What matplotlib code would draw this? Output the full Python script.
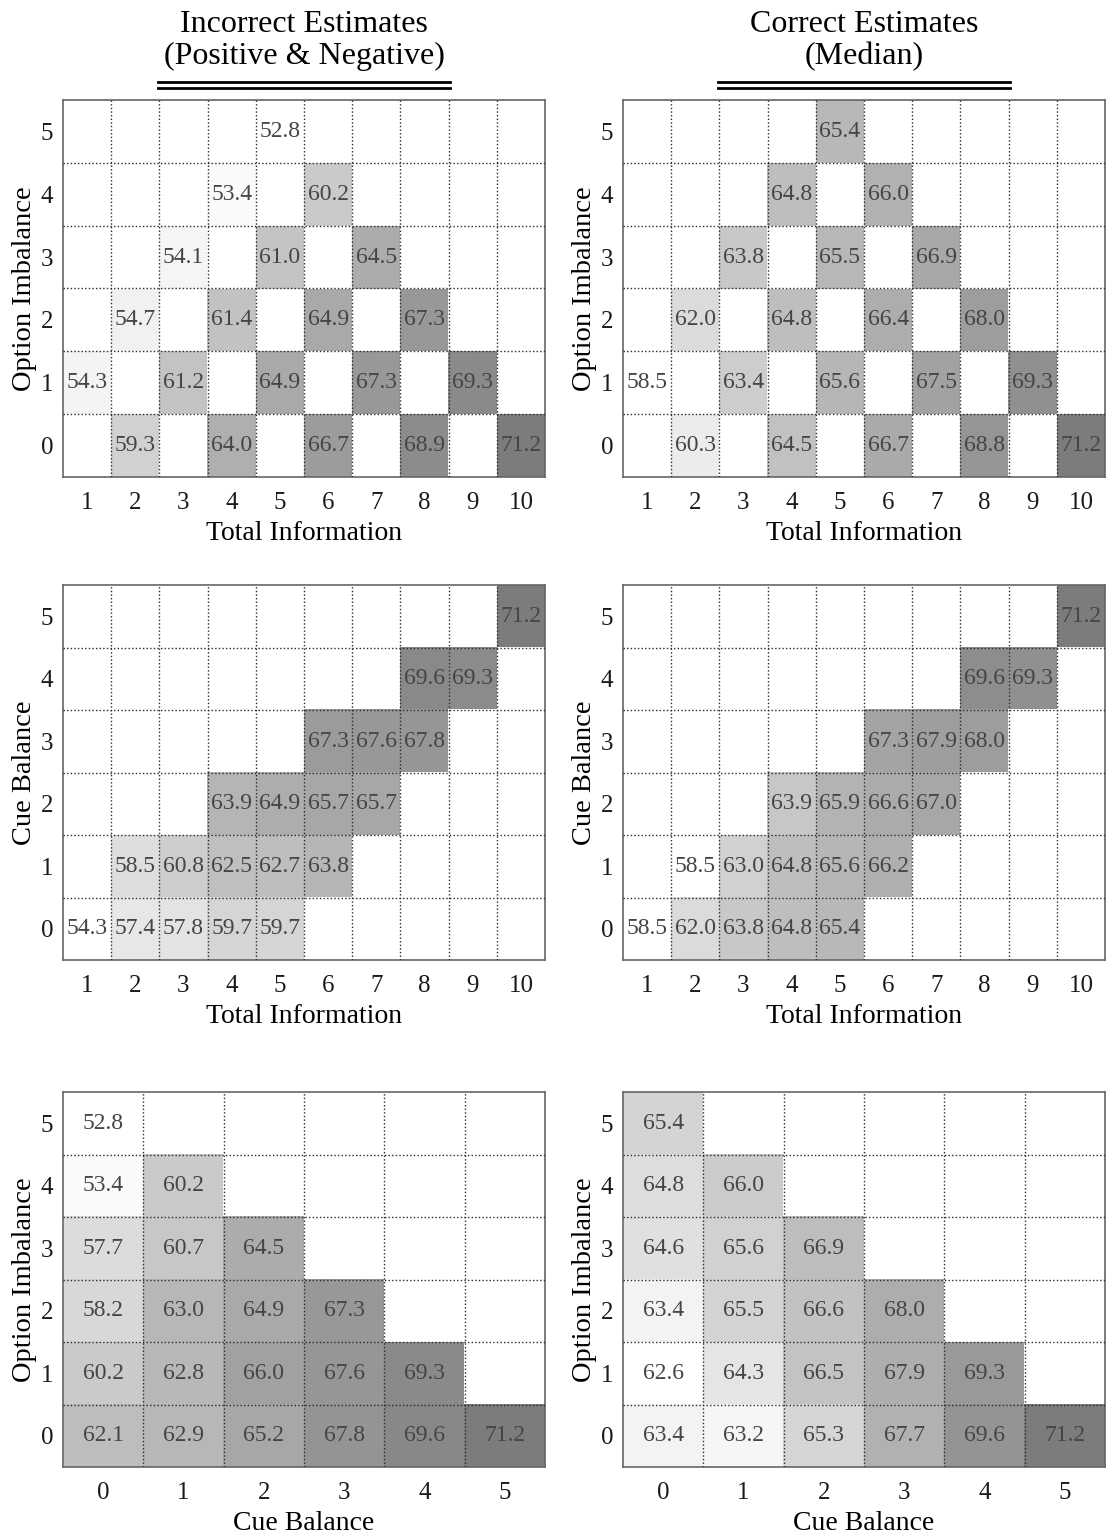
import numpy as np
import matplotlib
matplotlib.use("Agg")
import matplotlib.pyplot as plt
from matplotlib.colors import LinearSegmentedColormap
from matplotlib.lines import Line2D

plt.rcParams["font.family"] = ["Liberation Serif", "DejaVu Serif"]

nan = np.nan

total_info = list(range(1, 11))
levels = list(range(0, 6))

# rows: Option Imbalance 0..5, cols: Total Information 1..10
inc_ti_oi = [
    [nan, 59.3, nan, 64.0, nan, 66.7, nan, 68.9, nan, 71.2],
    [54.3, nan, 61.2, nan, 64.9, nan, 67.3, nan, 69.3, nan],
    [nan, 54.7, nan, 61.4, nan, 64.9, nan, 67.3, nan, nan],
    [nan, nan, 54.1, nan, 61.0, nan, 64.5, nan, nan, nan],
    [nan, nan, nan, 53.4, nan, 60.2, nan, nan, nan, nan],
    [nan, nan, nan, nan, 52.8, nan, nan, nan, nan, nan],
]
cor_ti_oi = [
    [nan, 60.3, nan, 64.5, nan, 66.7, nan, 68.8, nan, 71.2],
    [58.5, nan, 63.4, nan, 65.6, nan, 67.5, nan, 69.3, nan],
    [nan, 62.0, nan, 64.8, nan, 66.4, nan, 68.0, nan, nan],
    [nan, nan, 63.8, nan, 65.5, nan, 66.9, nan, nan, nan],
    [nan, nan, nan, 64.8, nan, 66.0, nan, nan, nan, nan],
    [nan, nan, nan, nan, 65.4, nan, nan, nan, nan, nan],
]

# rows: Cue Balance 0..5, cols: Total Information 1..10
inc_ti_cb = [
    [54.3, 57.4, 57.8, 59.7, 59.7, nan, nan, nan, nan, nan],
    [nan, 58.5, 60.8, 62.5, 62.7, 63.8, nan, nan, nan, nan],
    [nan, nan, nan, 63.9, 64.9, 65.7, 65.7, nan, nan, nan],
    [nan, nan, nan, nan, nan, 67.3, 67.6, 67.8, nan, nan],
    [nan, nan, nan, nan, nan, nan, nan, 69.6, 69.3, nan],
    [nan, nan, nan, nan, nan, nan, nan, nan, nan, 71.2],
]
cor_ti_cb = [
    [58.5, 62.0, 63.8, 64.8, 65.4, nan, nan, nan, nan, nan],
    [nan, 58.5, 63.0, 64.8, 65.6, 66.2, nan, nan, nan, nan],
    [nan, nan, nan, 63.9, 65.9, 66.6, 67.0, nan, nan, nan],
    [nan, nan, nan, nan, nan, 67.3, 67.9, 68.0, nan, nan],
    [nan, nan, nan, nan, nan, nan, nan, 69.6, 69.3, nan],
    [nan, nan, nan, nan, nan, nan, nan, nan, nan, 71.2],
]

# rows: Option Imbalance 0..5, cols: Cue Balance 0..5
inc_cb_oi = [
    [62.1, 62.9, 65.2, 67.8, 69.6, 71.2],
    [60.2, 62.8, 66.0, 67.6, 69.3, nan],
    [58.2, 63.0, 64.9, 67.3, nan, nan],
    [57.7, 60.7, 64.5, nan, nan, nan],
    [53.4, 60.2, nan, nan, nan, nan],
    [52.8, nan, nan, nan, nan, nan],
]
cor_cb_oi = [
    [63.4, 63.2, 65.3, 67.7, 69.6, 71.2],
    [62.6, 64.3, 66.5, 67.9, 69.3, nan],
    [63.4, 65.5, 66.6, 68.0, nan, nan],
    [64.6, 65.6, 66.9, nan, nan, nan],
    [64.8, 66.0, nan, nan, nan, nan],
    [65.4, nan, nan, nan, nan, nan],
]

W, H = 1106, 1538
fig = plt.figure(figsize=(W / 100, H / 100), dpi=100)

cmap = LinearSegmentedColormap.from_list("g", [(1, 1, 1), (0.49, 0.49, 0.49)])
cmap.set_bad("white")


def px_axes(x0, y0, x1, y1):
    return fig.add_axes([x0 / W, 1 - y1 / H, (x1 - x0) / W, (y1 - y0) / H])


def heat(ax, data, xvals, yvals, xlabel, ylabel):
    arr = np.array(data, dtype=float)
    ax.imshow(arr, cmap=cmap, vmin=np.nanmin(arr), vmax=np.nanmax(arr),
              origin="lower", aspect="auto", interpolation="nearest",
              extent=(xvals[0] - 0.5, xvals[-1] + 0.5, yvals[0] - 0.5, yvals[-1] + 0.5))
    for i, yv in enumerate(yvals):
        for j, xv in enumerate(xvals):
            if not np.isnan(arr[i, j]):
                ax.text(xv, yv, f"{arr[i, j]:.1f}", ha="center", va="center",
                        fontsize=17, color="#454545", zorder=4)
    ax.set_xticks(xvals)
    ax.set_yticks(yvals)
    ax.set_xticks(np.array(xvals[:-1]) + 0.5, minor=True)
    ax.set_yticks(np.array(yvals[:-1]) + 0.5, minor=True)
    ax.set_axisbelow(False)
    ax.grid(which="minor", linestyle=(0, (1, 1.6)), color="#2a2a2a", linewidth=1.0)
    ax.grid(which="major", visible=False)
    ax.tick_params(which="minor", length=0)
    ax.tick_params(which="major", length=0, labelsize=18, labelcolor="#1a1a1a")
    ax.tick_params(axis="x", pad=11)
    ax.tick_params(axis="y", pad=7)
    for s in ax.spines.values():
        s.set_color("#666666")
        s.set_linewidth(1.2)
    ax.set_xlabel(xlabel, fontsize=20, labelpad=5)
    ax.set_ylabel(ylabel, fontsize=20.5, labelpad=3)


cols = [(63, 545), (623, 1105)]
rows = [(100, 477), (585, 960), (1092, 1467)]

panels = [
    (inc_ti_oi, cor_ti_oi, total_info, levels, "Total Information", "Option Imbalance"),
    (inc_ti_cb, cor_ti_cb, total_info, levels, "Total Information", "Cue Balance"),
    (inc_cb_oi, cor_cb_oi, levels, levels, "Cue Balance", "Option Imbalance"),
]

for (y0, y1), (left, right, xv, yv, xl, yl) in zip(rows, panels):
    for (x0, x1), d in zip(cols, (left, right)):
        ax = px_axes(x0, y0, x1, y1)
        heat(ax, d, xv, yv, xl, yl)

titles = [("Incorrect Estimates", "(Positive & Negative)"), ("Correct Estimates", "(Median)")]
for (x0, x1), (t1, t2) in zip(cols, titles):
    cx = (x0 + x1) / 2 / W
    fig.text(cx, 1 - 32 / H, t1, ha="center", va="baseline", fontsize=23)
    fig.text(cx, 1 - 64 / H, t2, ha="center", va="baseline", fontsize=23)
    half = 146 / W
    for yy in (82, 88):
        fig.add_artist(Line2D([cx - half, cx + half], [1 - yy / H, 1 - yy / H],
                              transform=fig.transFigure, color="black", linewidth=2.0))

fig.savefig("out.png", dpi=100)
